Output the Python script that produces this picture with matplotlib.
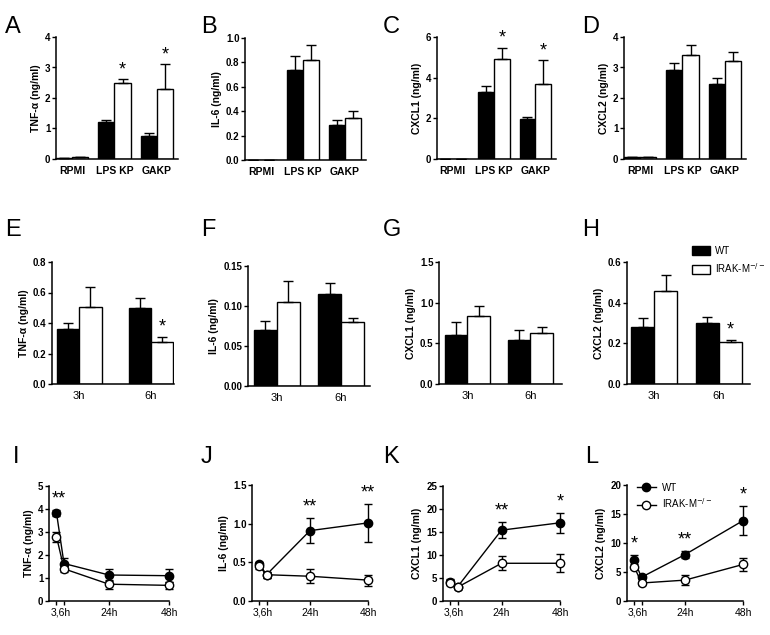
import numpy as np
import matplotlib
matplotlib.use('Agg')
import matplotlib.pyplot as plt
from matplotlib.patches import Patch
from matplotlib.lines import Line2D

plt.rcParams['font.family'] = ['Liberation Sans', 'DejaVu Sans']

# ---- row 1: stimulus (ng/ml)
stim = ['RPMI', 'LPS KP', 'GAKP']
a_wt = [0.03, 1.20, 0.77]
a_wt_err = [0.0, 0.08, 0.08]
a_ko = [0.05, 2.48, 2.28]
a_ko_err = [0.0, 0.13, 0.82]
a_stars = ['', '*', '*']

b_wt = [0.0, 0.74, 0.285]
b_wt_err = [0.0, 0.115, 0.04]
b_ko = [0.0, 0.82, 0.345]
b_ko_err = [0.0, 0.125, 0.06]
b_stars = ['', '', '']

c_wt = [0.01, 3.30, 1.95]
c_wt_err = [0.0, 0.27, 0.12]
c_ko = [0.02, 4.90, 3.70]
c_ko_err = [0.0, 0.55, 1.15]
c_stars = ['', '*', '*']

d_wt = [0.05, 2.92, 2.47]
d_wt_err = [0.0, 0.22, 0.18]
d_ko = [0.06, 3.40, 3.20]
d_ko_err = [0.0, 0.35, 0.32]
d_stars = ['', '', '']

# ---- row 2: 3h / 6h
times = ['3h', '6h']
e_wt = [0.362, 0.496]
e_wt_err = [0.04, 0.07]
e_ko = [0.507, 0.277]
e_ko_err = [0.128, 0.03]
e_stars = ['', '*']

f_wt = [0.070, 0.115]
f_wt_err = [0.011, 0.014]
f_ko = [0.105, 0.080]
f_ko_err = [0.026, 0.005]
f_stars = ['', '']

g_wt = [0.60, 0.547]
g_wt_err = [0.165, 0.12]
g_ko = [0.838, 0.633]
g_ko_err = [0.127, 0.07]
g_stars = ['', '']

h_wt = [0.280, 0.302]
h_wt_err = [0.046, 0.026]
h_ko = [0.457, 0.207]
h_ko_err = [0.077, 0.011]
h_stars = ['', '*']

# ---- row 3: time course
hours = [3, 6, 24, 48]
i_wt = [3.83, 1.63, 1.13, 1.10]
i_wt_err = [0.12, 0.25, 0.25, 0.28]
i_ko = [2.80, 1.40, 0.73, 0.68]
i_ko_err = [0.22, 0.12, 0.20, 0.15]
i_stars = ['**', '', '', '']

j_wt = [0.48, 0.34, 0.91, 1.01]
j_wt_err = [0.03, 0.04, 0.16, 0.245]
j_ko = [0.45, 0.34, 0.32, 0.27]
j_ko_err = [0.03, 0.04, 0.09, 0.07]
j_stars = ['', '', '**', '**']

k_wt = [4.2, 3.1, 15.4, 17.0]
k_wt_err = [0.5, 0.4, 1.8, 2.2]
k_ko = [4.0, 3.0, 8.2, 8.2]
k_ko_err = [0.5, 0.4, 1.5, 2.0]
k_stars = ['', '', '**', '*']

l_wt = [7.0, 4.1, 8.0, 13.85]
l_wt_err = [1.0, 0.3, 0.6, 2.5]
l_ko = [5.9, 3.1, 3.6, 6.3]
l_ko_err = [0.4, 0.3, 0.9, 1.1]
l_stars = ['*', '', '**', '*']

W, H = 770, 635
fig = plt.figure(figsize=(W / 100, H / 100), dpi=100)


def add_ax(l, t, r, b):
    return fig.add_axes([l / W, 1 - b / H, (r - l) / W, (b - t) / H])


def style(ax, yticks, fmt):
    for s in ['top', 'right']:
        ax.spines[s].set_visible(False)
    for s in ['left', 'bottom']:
        ax.spines[s].set_linewidth(1.1)
    ax.set_ylim(yticks[0], yticks[-1])
    ax.set_yticks(yticks)
    ax.set_yticklabels([fmt.format(v) for v in yticks], fontsize=7, fontweight='bold')
    ax.tick_params(axis='y', length=3, width=1, pad=1)


def bar_panel(ax, labels, wt, wt_err, ko, ko_err, stars, yticks, fmt, ylabel,
              width, xlim, bold_x, xfs):
    x = np.arange(len(labels))
    ax.bar(x - width / 2, wt, width, color='black', edgecolor='black', linewidth=1,
           yerr=[np.zeros(len(wt)), wt_err], error_kw=dict(capsize=3.5, elinewidth=1, capthick=1))
    ax.bar(x + width / 2, ko, width, color='white', edgecolor='black', linewidth=1,
           yerr=[np.zeros(len(ko)), ko_err], error_kw=dict(capsize=3.5, elinewidth=1, capthick=1))
    span = yticks[-1] - yticks[0]
    for xi, v, e, s in zip(x, ko, ko_err, stars):
        if s:
            ax.text(xi + width / 2, v + e + 0.01 * span, s, ha='center', va='bottom', fontsize=13)
    style(ax, yticks, fmt)
    ax.set_xlim(*xlim)
    ax.set_xticks(x)
    ax.set_xticklabels(labels, fontsize=xfs, fontweight='bold' if bold_x else 'normal')
    ax.tick_params(axis='x', length=0, pad=5)
    ax.set_ylabel(ylabel, fontsize=7.5, fontweight='bold', labelpad=3)


def line_panel(ax, wt, wt_err, ko, ko_err, stars, yticks, ylabel):
    for yv, ye, fc, z in [(wt, wt_err, 'black', 3), (ko, ko_err, 'white', 4)]:
        cont = ax.errorbar(hours, yv, yerr=ye, color='black', marker='o', markersize=6,
                           markerfacecolor=fc, markeredgewidth=1, linewidth=1, capsize=3,
                           elinewidth=1, zorder=z)
        for art in cont.get_children():
            art.set_clip_on(False)
    span = yticks[-1] - yticks[0]
    for h, v, e, s in zip(hours, wt, wt_err, stars):
        if s:
            hx = 4 if h == 3 and s == '**' else h
            ax.text(hx, v + e + 0.02 * span, s, ha='center', va='bottom', fontsize=13)
    style(ax, yticks, '{:g}')
    ax.set_xlim(0, 48)
    ax.set_xticks(hours)
    ax.set_xticklabels(['', '', '24h', '48h'], fontsize=7.5)
    ax.set_xticks([4.5], minor=True)
    ax.set_xticklabels(['3,6h'], minor=True, fontsize=7.5)
    ax.tick_params(axis='x', which='major', length=3, width=1, pad=2)
    ax.tick_params(axis='x', which='minor', length=0, pad=5)
    ax.set_ylabel(ylabel, fontsize=7.5, fontweight='bold', labelpad=3)


# row 1
axA = add_ax(56, 37, 178, 159)
bar_panel(axA, stim, a_wt, a_wt_err, a_ko, a_ko_err, a_stars, [0, 1, 2, 3, 4], '{:g}',
          'TNF-α (ng/ml)', 0.38, (-0.38, 2.5), True, 7.5)
axB = add_ax(245, 38, 366, 160)
bar_panel(axB, stim, b_wt, b_wt_err, b_ko, b_ko_err, b_stars, [0, 0.2, 0.4, 0.6, 0.8, 1.0],
          '{:.1f}', 'IL-6 (ng/ml)', 0.38, (-0.38, 2.5), True, 7.5)
axC = add_ax(437, 37, 556, 159)
bar_panel(axC, stim, c_wt, c_wt_err, c_ko, c_ko_err, c_stars, [0, 2, 4, 6], '{:g}',
          'CXCL1 (ng/ml)', 0.38, (-0.38, 2.5), True, 7.5)
axD = add_ax(624, 37, 746, 159)
bar_panel(axD, stim, d_wt, d_wt_err, d_ko, d_ko_err, d_stars, [0, 1, 2, 3, 4], '{:g}',
          'CXCL2 (ng/ml)', 0.38, (-0.38, 2.5), True, 7.5)

# row 2
axE = add_ax(52, 262, 174, 384)
bar_panel(axE, times, e_wt, e_wt_err, e_ko, e_ko_err, e_stars, [0, 0.2, 0.4, 0.6, 0.8],
          '{:.1f}', 'TNF-α (ng/ml)', 0.31, (-0.38, 1.32), False, 8)
axF = add_ax(248, 266, 370, 386)
bar_panel(axF, times, f_wt, f_wt_err, f_ko, f_ko_err, f_stars, [0, 0.05, 0.10, 0.15],
          '{:.2f}', 'IL-6 (ng/ml)', 0.36, (-0.45, 1.45), False, 8)
axG = add_ax(439, 262, 562, 384)
bar_panel(axG, times, g_wt, g_wt_err, g_ko, g_ko_err, g_stars, [0, 0.5, 1.0, 1.5],
          '{:.1f}', 'CXCL1 (ng/ml)', 0.36, (-0.45, 1.5), False, 8)
axH = add_ax(627, 262, 750, 384)
bar_panel(axH, times, h_wt, h_wt_err, h_ko, h_ko_err, h_stars, [0, 0.2, 0.4, 0.6],
          '{:.1f}', 'CXCL2 (ng/ml)', 0.36, (-0.42, 1.48), False, 8)
fig.legend(handles=[Patch(facecolor='black', edgecolor='black', label='WT'),
                    Patch(facecolor='white', edgecolor='black', label='IRAK-M$^{-/-}$')],
           loc='upper left', bbox_to_anchor=(692 / W, 1 - 246 / H), frameon=False,
           fontsize=7, handlelength=1.9, handleheight=0.95, handletextpad=0.5,
           labelspacing=0.5, borderpad=0, borderaxespad=0)

# row 3
axI = add_ax(49, 486, 169, 601)
line_panel(axI, i_wt, i_wt_err, i_ko, i_ko_err, i_stars, [0, 1, 2, 3, 4, 5], 'TNF-α (ng/ml)')
axJ = add_ax(252, 485, 368, 601)
line_panel(axJ, j_wt, j_wt_err, j_ko, j_ko_err, j_stars, [0, 0.5, 1.0, 1.5], 'IL-6 (ng/ml)')
axJ.set_yticklabels(['0.0', '0.5', '1.0', '1.5'], fontsize=7, fontweight='bold')
axK = add_ax(443, 486, 560, 601)
line_panel(axK, k_wt, k_wt_err, k_ko, k_ko_err, k_stars, [0, 5, 10, 15, 20, 25], 'CXCL1 (ng/ml)')
axL = add_ax(627, 485, 743, 601)
line_panel(axL, l_wt, l_wt_err, l_ko, l_ko_err, l_stars, [0, 5, 10, 15, 20], 'CXCL2 (ng/ml)')
axL.legend(handles=[Line2D([0], [0], color='black', marker='o', markersize=6,
                           markerfacecolor='black', linewidth=1, label='WT'),
                    Line2D([0], [0], color='black', marker='o', markersize=6,
                           markerfacecolor='white', linewidth=1, label='IRAK-M$^{-/-}$')],
           loc='upper left', bbox_to_anchor=(0.04, 1.06), frameon=False, fontsize=7,
           handlelength=2, handletextpad=0.6, labelspacing=0.35, borderpad=0)

# panel letters
letters = [('A', 5, 16), ('B', 201, 16), ('C', 383, 16), ('D', 582, 16),
           ('E', 5, 219), ('F', 201, 219), ('G', 383, 219), ('H', 582, 219),
           ('I', 13, 446), ('J', 201, 446), ('K', 383, 446), ('L', 585, 446)]
for s, px, py in letters:
    fig.text(px / W, 1 - py / H, s, fontsize=17, ha='left', va='top')

fig.savefig('out.png', dpi=100)
